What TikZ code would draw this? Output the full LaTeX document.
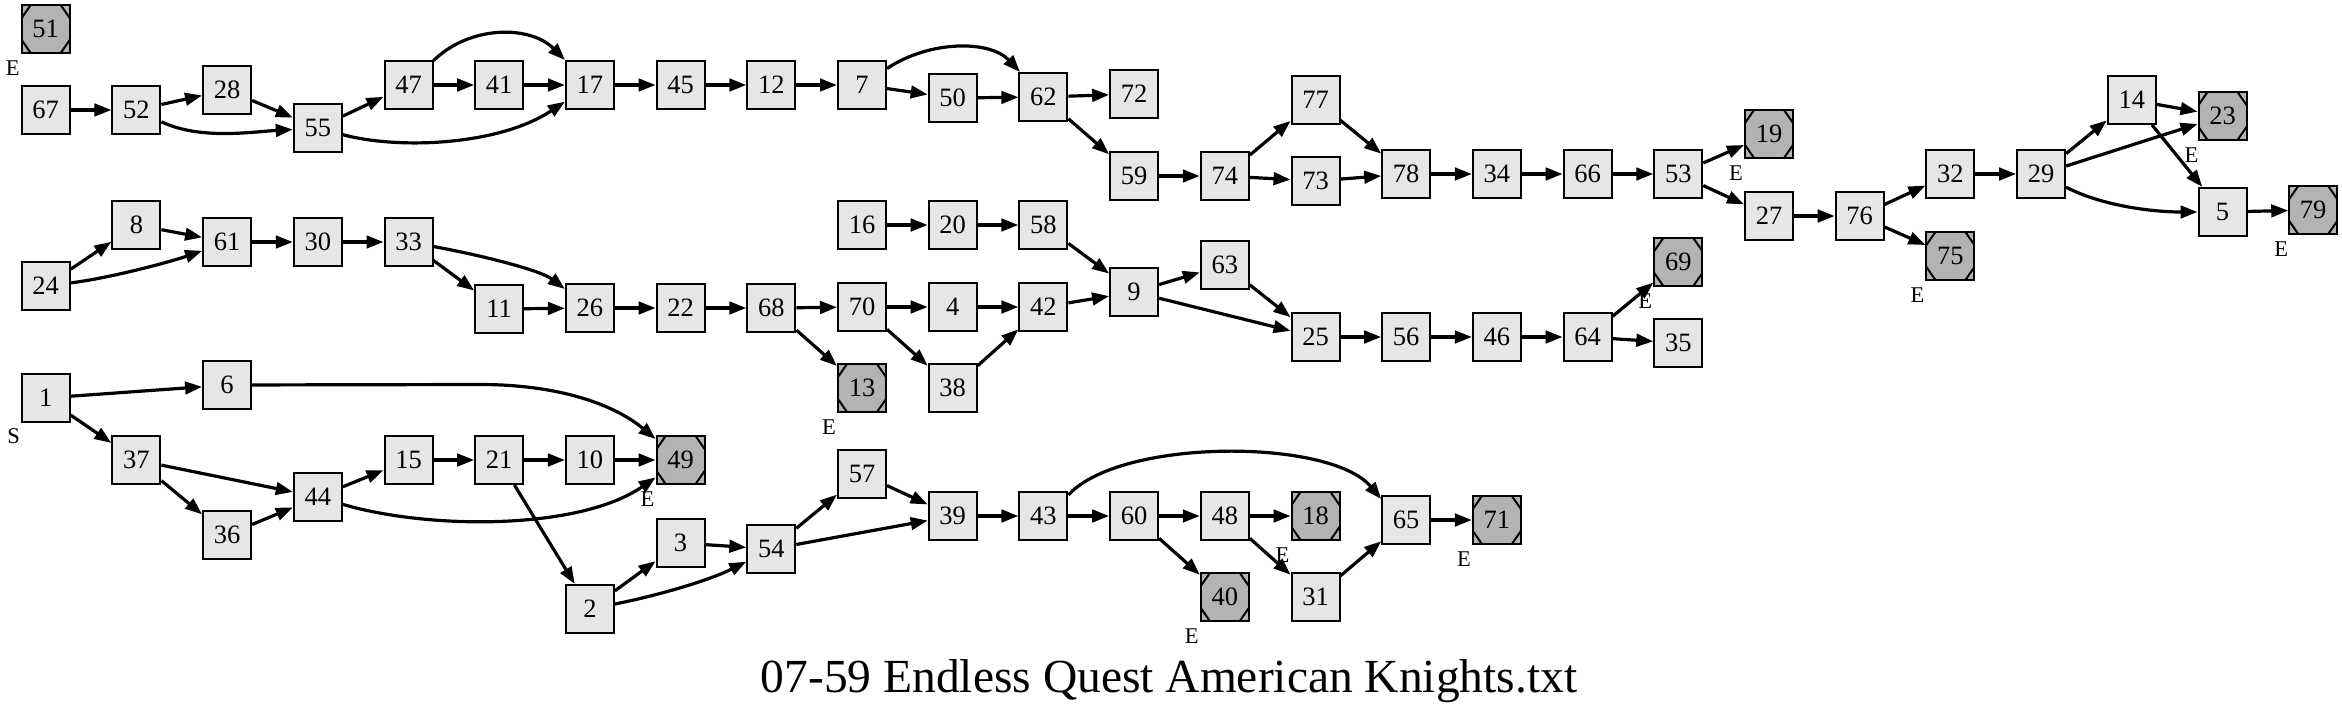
\documentclass[tikz,border=0pt]{standalone}
\usepackage{fontspec}
\setmainfont{Liberation Serif}
\usetikzlibrary{arrows.meta}
\definecolor{nodegray}{HTML}{E6E6E6}
\definecolor{endgray}{HTML}{B3B3B3}
\begin{document}
\begin{tikzpicture}[x=1pt,y=-1pt,
  box/.style={draw, line width=2pt, fill=nodegray, minimum width=48pt, minimum height=48pt, inner sep=0pt, font=\fontsize{26.5}{26.5}\selectfont},
  endbox/.style={box, fill=endgray, path picture={
     \draw[line width=2pt] ([xshift=9pt]path picture bounding box.north west) -- ([yshift=-13pt]path picture bounding box.north west);
     \draw[line width=2pt] ([xshift=-9pt]path picture bounding box.north east) -- ([yshift=-13pt]path picture bounding box.north east);
     \draw[line width=2pt] ([xshift=9pt]path picture bounding box.south west) -- ([yshift=13pt]path picture bounding box.south west);
     \draw[line width=2pt] ([xshift=-9pt]path picture bounding box.south east) -- ([yshift=13pt]path picture bounding box.south east);
  }},
  lbl/.style={font=\fontsize{22.5}{22.5}\selectfont, inner sep=0pt},
  conn/.style={line width=3.2pt, -{Triangle[length=17pt,width=12.5pt]}}]
\fill[white] (0,0) rectangle (2342,712);
\useasboundingbox (0,0) rectangle (2342,712);
% rank 0
\node[endbox] (n51) at (45.7,29) {51};
\node[box] (n67) at (45.7,110) {67};
\node[box] (n24) at (45.7,286) {24};
\node[box] (n1) at (45.7,398) {1};
% rank 1
\node[box] (n52) at (136.4,110) {52};
\node[box] (n8) at (136.4,225) {8};
\node[box] (n37) at (136.4,460) {37};
% rank 2
\node[box] (n28) at (227.1,90) {28};
\node[box] (n61) at (227.1,242) {61};
\node[box] (n6) at (227.1,385) {6};
\node[box] (n36) at (227.1,535) {36};
% rank 3
\node[box] (n55) at (317.8,128) {55};
\node[box] (n30) at (317.8,242) {30};
\node[box] (n44) at (317.8,497) {44};
% rank 4
\node[box] (n47) at (408.5,85) {47};
\node[box] (n33) at (408.5,242) {33};
\node[box] (n15) at (408.5,460) {15};
% rank 5
\node[box] (n41) at (499.2,85) {41};
\node[box] (n11) at (499.2,309) {11};
\node[box] (n21) at (499.2,460) {21};
% rank 6
\node[box] (n17) at (589.9,85) {17};
\node[box] (n26) at (589.9,308) {26};
\node[box] (n10) at (589.9,460) {10};
\node[box] (n2) at (589.9,609) {2};
% rank 7
\node[box] (n45) at (680.6,85) {45};
\node[box] (n22) at (680.6,308) {22};
\node[endbox] (n49) at (680.6,460) {49};
\node[box] (n3) at (680.6,543) {3};
% rank 8
\node[box] (n12) at (771.3,85) {12};
\node[box] (n68) at (771.3,308) {68};
\node[box] (n54) at (771.3,549) {54};
% rank 9
\node[box] (n7) at (862.0,85) {7};
\node[box] (n16) at (862.0,225) {16};
\node[box] (n70) at (862.0,307) {70};
\node[endbox] (n13) at (862.0,388) {13};
\node[box] (n57) at (862.0,474) {57};
% rank 10
\node[box] (n50) at (952.7,98) {50};
\node[box] (n20) at (952.7,225) {20};
\node[box] (n4) at (952.7,307) {4};
\node[box] (n38) at (952.7,388) {38};
\node[box] (n39) at (952.7,516) {39};
% rank 11
\node[box] (n62) at (1043.4,97) {62};
\node[box] (n58) at (1043.4,225) {58};
\node[box] (n42) at (1043.4,307) {42};
\node[box] (n43) at (1043.4,516) {43};
% rank 12
\node[box] (n72) at (1134.1,94) {72};
\node[box] (n59) at (1134.1,176) {59};
\node[box] (n9) at (1134.1,292) {9};
\node[box] (n60) at (1134.1,516) {60};
% rank 13
\node[box] (n74) at (1224.8,176) {74};
\node[box] (n63) at (1224.8,265) {63};
\node[box] (n48) at (1224.8,516) {48};
\node[endbox] (n40) at (1224.8,597) {40};
% rank 14
\node[box] (n77) at (1315.5,100) {77};
\node[box] (n73) at (1315.5,181) {73};
\node[box] (n25) at (1315.5,337) {25};
\node[endbox] (n18) at (1315.5,516) {18};
\node[box] (n31) at (1315.5,597) {31};
% rank 15
\node[box] (n78) at (1406.2,174) {78};
\node[box] (n56) at (1406.2,337) {56};
\node[box] (n65) at (1406.2,520) {65};
% rank 16
\node[box] (n34) at (1496.9,174) {34};
\node[box] (n46) at (1496.9,337) {46};
\node[endbox] (n71) at (1496.9,520) {71};
% rank 17
\node[box] (n66) at (1587.6,174) {66};
\node[box] (n64) at (1587.6,337) {64};
% rank 18
\node[box] (n53) at (1678.3,174) {53};
\node[endbox] (n69) at (1678.3,262) {69};
\node[box] (n35) at (1678.3,343) {35};
% rank 19
\node[endbox] (n19) at (1769.0,134) {19};
\node[box] (n27) at (1769.0,216) {27};
% rank 20
\node[box] (n76) at (1859.7,216) {76};
% rank 21
\node[box] (n32) at (1950.4,174) {32};
\node[endbox] (n75) at (1950.4,256) {75};
% rank 22
\node[box] (n29) at (2041.1,174) {29};
% rank 23
\node[box] (n14) at (2131.8,100) {14};
% rank 24
\node[endbox] (n23) at (2222.5,116) {23};
\node[box] (n5) at (2222.5,212) {5};
% rank 25
\node[endbox] (n79) at (2313.2,210) {79};

% labels
\node[lbl] (s1) at (13.7,436) {S};
\node[lbl] (e51) at (12.7,68) {E};
\node[lbl] (e49) at (647.6,499) {E};
\node[lbl] (e13) at (829.0,427) {E};
\node[lbl] (e40) at (1191.8,636) {E};
\node[lbl] (e18) at (1282.5,555) {E};
\node[lbl] (e71) at (1463.9,559) {E};
\node[lbl] (e69) at (1645.3,301) {E};
\node[lbl] (e19) at (1736.0,173) {E};
\node[lbl] (e75) at (1917.4,295) {E};
\node[lbl] (e23) at (2191.5,155) {E};
\node[lbl] (e79) at (2281.2,249) {E};

% edges
\draw[conn] (n67) -- (n52);
\draw[conn] (n52) -- (n28);
\draw[conn] (n52) .. controls (200,140) and (250,132) .. (n55);
\draw[conn] (n28) -- (n55);
\draw[conn] (n55) -- (n47);
\draw[conn] (n55) .. controls (400,150) and (500,145) .. (n17);
\draw[conn] (n47) -- (n41);
\draw[conn] (n47) .. controls (470,25) and (530,25) .. (n17);
\draw[conn] (n41) -- (n17);
\draw[conn] (n17) -- (n45);
\draw[conn] (n45) -- (n12);
\draw[conn] (n12) -- (n7);
\draw[conn] (n7) -- (n50);
\draw[conn] (n7) .. controls (930,40) and (990,40) .. (n62);
\draw[conn] (n50) -- (n62);
\draw[conn] (n62) -- (n72);
\draw[conn] (n62) -- (n59);
\draw[conn] (n59) -- (n74);
\draw[conn] (n74) -- (n77);
\draw[conn] (n74) -- (n73);
\draw[conn] (n77) -- (n78);
\draw[conn] (n73) -- (n78);
\draw[conn] (n78) -- (n34);
\draw[conn] (n34) -- (n66);
\draw[conn] (n66) -- (n53);
\draw[conn] (n53) -- (n19);
\draw[conn] (n53) -- (n27);
\draw[conn] (n27) -- (n76);
\draw[conn] (n76) -- (n32);
\draw[conn] (n76) -- (n75);
\draw[conn] (n32) -- (n29);
\draw[conn] (n29) -- (n14);
\draw[conn] (n29) -- (n23);
\draw[conn] (n29) .. controls (2100,205) and (2150,212) .. (n5);
\draw[conn] (n14) -- (n23);
\draw[conn] (n14) -- (n5);
\draw[conn] (n5) -- (n79);
\draw[conn] (n24) -- (n8);
\draw[conn] (n24) .. controls (110,278) and (170,262) .. (n61);
\draw[conn] (n8) -- (n61);
\draw[conn] (n61) -- (n30);
\draw[conn] (n30) -- (n33);
\draw[conn] (n33) .. controls (480,255) and (540,270) .. (n26);
\draw[conn] (n33) -- (n11);
\draw[conn] (n11) -- (n26);
\draw[conn] (n26) -- (n22);
\draw[conn] (n22) -- (n68);
\draw[conn] (n68) -- (n70);
\draw[conn] (n68) -- (n13);
\draw[conn] (n70) -- (n4);
\draw[conn] (n70) -- (n38);
\draw[conn] (n4) -- (n42);
\draw[conn] (n38) -- (n42);
\draw[conn] (n42) -- (n9);
\draw[conn] (n16) -- (n20);
\draw[conn] (n20) -- (n58);
\draw[conn] (n58) -- (n9);
\draw[conn] (n9) -- (n63);
\draw[conn] (n9) -- (n25);
\draw[conn] (n63) -- (n25);
\draw[conn] (n25) -- (n56);
\draw[conn] (n56) -- (n46);
\draw[conn] (n46) -- (n64);
\draw[conn] (n64) -- (n69);
\draw[conn] (n64) -- (n35);
\draw[conn] (n1) -- (n6);
\draw[conn] (n1) -- (n37);
\draw[conn] (n6) -- (480,384.5) .. controls (560,384.5) and (615,405) .. (n49);
\draw[conn] (n37) -- (n44);
\draw[conn] (n37) -- (n36);
\draw[conn] (n36) -- (n44);
\draw[conn] (n44) -- (n15);
\draw[conn] (n44) .. controls (430,530) and (580,530) .. (n49);
\draw[conn] (n15) -- (n21);
\draw[conn] (n21) -- (n10);
\draw[conn] (n21) -- (n2);
\draw[conn] (n10) -- (n49);
\draw[conn] (n2) -- (n3);
\draw[conn] (n2) .. controls (660,595) and (710,580) .. (n54);
\draw[conn] (n3) -- (n54);
\draw[conn] (n54) -- (n57);
\draw[conn] (n54) -- (n39);
\draw[conn] (n57) -- (n39);
\draw[conn] (n39) -- (n43);
\draw[conn] (n43) -- (n60);
\draw[conn] (n43.40) .. controls (1120,438) and (1330,438) .. (n65.140);
\draw[conn] (n60) -- (n48);
\draw[conn] (n60) -- (n40);
\draw[conn] (n48) -- (n18);
\draw[conn] (n48) -- (n31);
\draw[conn] (n31) -- (n65);
\draw[conn] (n65) -- (n71);

% title
\node[font=\fontsize{47.5}{47.5}\selectfont, anchor=base, inner sep=0pt] (title) at (1169,692) {07-59 Endless Quest American Knights.txt};
\end{tikzpicture}
\end{document}
